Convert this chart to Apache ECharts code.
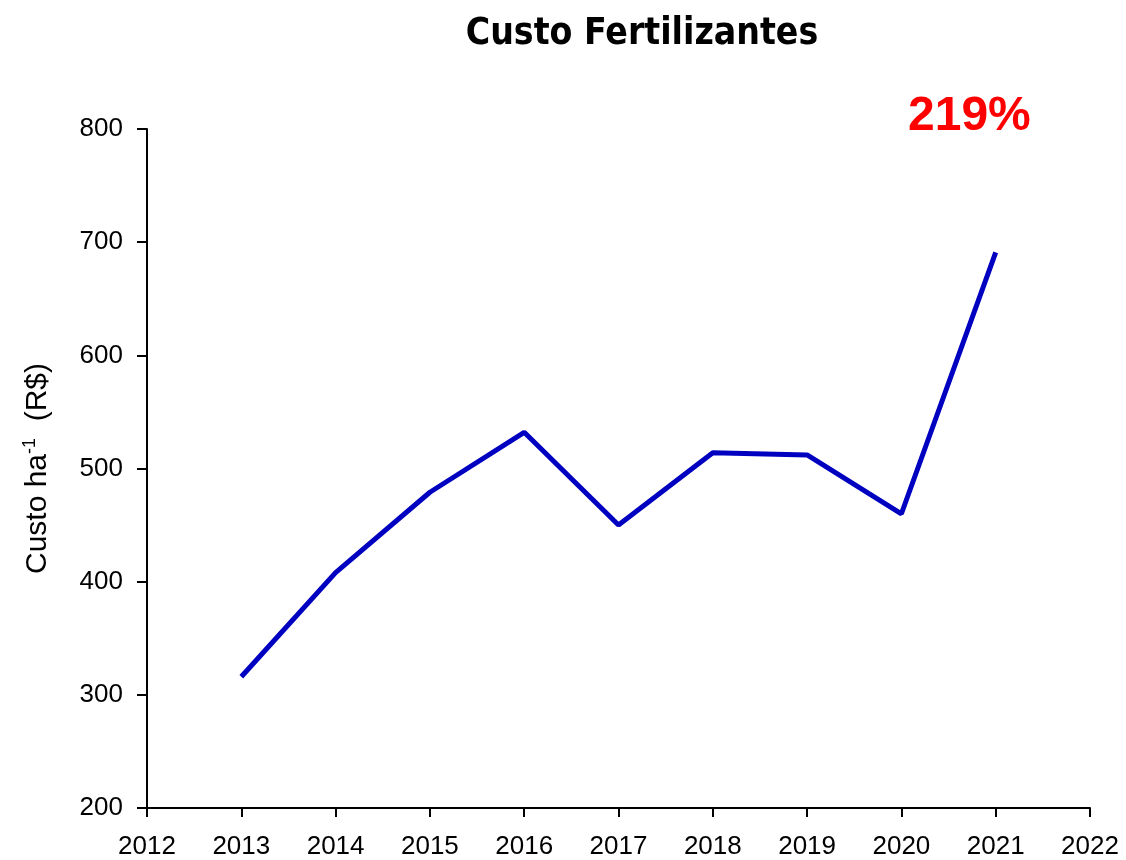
<!DOCTYPE html>
<html>
<head>
<meta charset="utf-8">
<script src="https://cdn.jsdelivr.net/npm/echarts@6/dist/echarts.min.js"></script>
<style>
html,body{margin:0;padding:0;background:#fff;}
#chart{width:1126px;height:860px;}
</style>
</head>
<body>
<div id="chart"></div>
<script>
const years = [2013, 2014, 2015, 2016, 2017, 2018, 2019, 2020, 2021];
const custo = [316, 408, 479, 532, 450, 514, 512, 460, 691];
const titleText = 'Custo Fertilizantes';
const annotation = '219%';
const yAxisName = 'Custo ha';

const chart = echarts.init(document.getElementById('chart'), null, {renderer: 'canvas'});
const labelFont = {color: '#000', fontFamily: 'Liberation Sans, Arial, sans-serif', fontSize: 26};
chart.setOption({
  animation: false,
  backgroundColor: '#fff',
  title: {
    text: titleText,
    left: 637, top: 11, textAlign: 'center',
    textStyle: {fontFamily: 'DejaVu Sans Condensed, Roboto, sans-serif', fontWeight: 'bold', fontSize: 37, color: '#000'}
  },
  graphic: [{
    type: 'text', left: 908, top: 93,
    style: {text: annotation, fill: '#ff0000', font: 'bold 48px Liberation Sans, Arial, sans-serif'}
  }],
  grid: {left: 147, right: 36, top: 129, bottom: 51},
  xAxis: {
    type: 'value', min: 2012, max: 2022, interval: 1,
    splitLine: {show: false},
    axisLine: {show: true, lineStyle: {color: '#000', width: 2}},
    axisTick: {show: true, inside: false, length: 9, lineStyle: {color: '#000', width: 2}},
    axisLabel: Object.assign({margin: 26, formatter: v => String(v)}, labelFont)
  },
  yAxis: {
    type: 'value', min: 200, max: 800, interval: 100,
    splitLine: {show: false},
    axisLine: {show: true, lineStyle: {color: '#000', width: 2}},
    axisTick: {show: true, inside: false, length: 10, lineStyle: {color: '#000', width: 2}},
    axisLabel: Object.assign({margin: 24}, labelFont),
    name: '{n|' + yAxisName + '}{s|-1}{n|  (R$)}',
    nameLocation: 'middle', nameGap: 92, nameRotate: 90,
    nameTextStyle: {
      rich: {
        n: {fontFamily: 'Liberation Sans, Arial, sans-serif', fontSize: 30, color: '#000'},
        s: {fontFamily: 'Liberation Sans, Arial, sans-serif', fontSize: 18, color: '#000', padding: [0, 0, 16, 0]}
      }
    }
  },
  series: [{
    type: 'line',
    data: years.map((y, i) => [y, custo[i]]),
    showSymbol: false, symbol: 'none',
    lineStyle: {color: '#0000c0', width: 5}
  }]
});
</script>
</body>
</html>
